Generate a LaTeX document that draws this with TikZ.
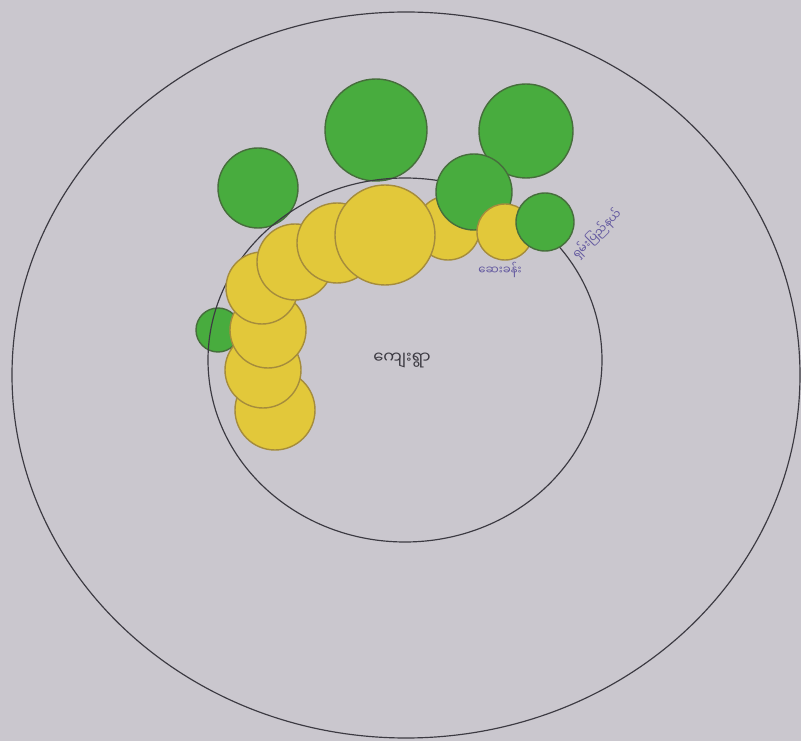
\documentclass[tikz,border=0pt]{standalone}
\usepackage{fontspec}
\newfontfamily\mya[Script=Myanmar]{Noto Sans Myanmar UI}
\definecolor{paper}{RGB}{202,199,206}
\definecolor{leaf}{RGB}{72,172,62}
\definecolor{leafline}{RGB}{70,110,60}
\definecolor{sun}{RGB}{226,200,58}
\definecolor{sunline}{RGB}{165,140,60}
\definecolor{ink}{RGB}{60,58,66}
\definecolor{pen}{RGB}{100,90,160}
\tikzset{
  greenc/.style={fill=leaf, draw=leafline, line width=1.2pt},
  yellowc/.style={fill=sun, draw=sunline, line width=1.2pt},
  ring/.style={draw=ink, line width=1pt},
  penlabel/.style={text=pen, font=\mya\fontsize{10}{12}\selectfont, inner sep=1pt}
}
\begin{document}
\begin{tikzpicture}[x=0.03cm,y=-0.03cm]
\fill[paper] (0,0) rectangle (801,741);
\useasboundingbox (0,0) rectangle (801,741);
% outer ring
\draw[ring] (406,375) ellipse [x radius=394, y radius=363];
% green circles behind
\draw[greenc] (258,188) circle (40);
\draw[greenc] (376,130) circle (51);
\draw[greenc] (526,131) circle (47);
\draw[greenc] (218,330) circle (22);
% inner ring
\draw[ring] (405,360) ellipse [x radius=197, y radius=182];
% yellow chain
\draw[yellowc] (275,410) circle (40);
\draw[yellowc] (263,370) circle (38);
\draw[yellowc] (268,330) circle (38);
\draw[yellowc] (262,288) circle (36);
\draw[yellowc] (295,262) circle (38);
\draw[yellowc] (337,243) circle (40);
\draw[yellowc] (448,228) circle (32);
\draw[yellowc] (385,235) circle (50);
\draw[greenc] (474,192) circle (38);
\draw[yellowc] (505,232) circle (28);
\draw[greenc] (545,222) circle (29);
% labels
\node[text=ink, font=\mya\fontsize{14}{16}\selectfont] (village) at (402,360) {ကျေးရွာ};
\node[penlabel] (clinic) at (500,270) {ဆေးခန်း};
\node[penlabel, rotate=45] (road) at (597,234) {ရှမ်းပြည်နယ်};
\end{tikzpicture}
\end{document}
